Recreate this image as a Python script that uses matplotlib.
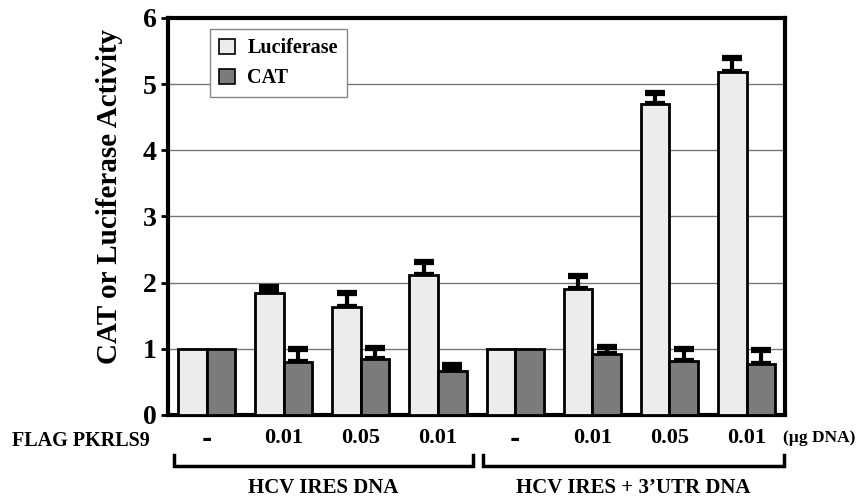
import matplotlib
matplotlib.use("Agg")
import matplotlib.pyplot as plt
import matplotlib.transforms as mtransforms
from matplotlib.patches import Patch
import numpy as np

# ---- data ----
dose_labels = ["-", "0.01", "0.05", "0.01", "-", "0.01", "0.05", "0.01"]
luciferase = [1.0, 1.84, 1.63, 2.11, 1.0, 1.90, 4.70, 5.18]
luciferase_err = [0.0, 0.09, 0.22, 0.20, 0.0, 0.20, 0.17, 0.21]
cat = [1.0, 0.80, 0.85, 0.67, 1.0, 0.92, 0.82, 0.77]
cat_err = [0.0, 0.20, 0.17, 0.09, 0.0, 0.11, 0.17, 0.21]
group_names = ["HCV IRES DNA", "HCV IRES + 3\u2019UTR DNA"]
series_names = ["Luciferase", "CAT"]
ylabel = "CAT or Luciferase Activity"
row_label = "FLAG PKRLS9"
unit_label = "(\u00b5g DNA)"

plt.rcParams['font.family'] = ['Liberation Serif', 'DejaVu Serif']
plt.rcParams['font.weight'] = 'bold'

fig = plt.figure(figsize=(8.63, 4.97), dpi=100)
ax = fig.add_axes([0.1947, 0.165, 0.715, 0.7988])

x = np.arange(len(luciferase))
w = 0.37
luc_color = "#ececec"
cat_color = "#7b7b7b"

ax.bar(x - w / 2, luciferase, w, color=luc_color, edgecolor="black", linewidth=2, zorder=3)
ax.bar(x + w / 2, cat, w, color=cat_color, edgecolor="black", linewidth=2, zorder=3)

def upper_err(xs, vals, errs):
    xs = np.asarray(xs); vals = np.asarray(vals); errs = np.asarray(errs)
    m = errs > 0
    ax.errorbar(xs[m], vals[m], yerr=[np.zeros(m.sum()), errs[m]], fmt='none',
                ecolor='black', elinewidth=3, capsize=7.5, capthick=4.5, zorder=2)

upper_err(x - w / 2, luciferase, luciferase_err)
upper_err(x + w / 2, cat, cat_err)

ax.set_xlim(-0.5, 7.5)
ax.set_ylim(0, 6)
ax.set_yticks(range(0, 7))
ax.set_yticklabels([str(i) for i in range(0, 7)], fontsize=20, fontweight='bold')
ax.set_xticks([])
ax.tick_params(axis='y', direction='out', length=5, width=2, pad=3)
for y in range(1, 6):
    ax.axhline(y, color="#777777", linewidth=1, zorder=1)
for s in ax.spines.values():
    s.set_linewidth(3)
    s.set_color('black')

ax.set_ylabel(ylabel, fontsize=21, fontweight='bold', labelpad=10)
ax.yaxis.set_label_coords(-0.073, 0.55)

# legend
handles = [Patch(facecolor=luc_color, edgecolor='black', linewidth=1.2),
           Patch(facecolor=cat_color, edgecolor='black', linewidth=1.2)]
leg = ax.legend(handles, series_names, loc='upper left', bbox_to_anchor=(0.052, 0.997),
                prop={'family': 'Liberation Serif', 'weight': 'bold', 'size': 14.5},
                handlelength=0.8, handleheight=0.8, handletextpad=0.6,
                labelspacing=0.5, borderpad=0.45, fancybox=False, framealpha=1,
                edgecolor='#888888')
leg.get_frame().set_linewidth(1)
leg.set_zorder(5)

trans = mtransforms.blended_transform_factory(ax.transData, ax.transAxes)
ftrans = mtransforms.blended_transform_factory(fig.transFigure, ax.transAxes)

# dose labels
for xi, lab in zip(x, dose_labels):
    if lab == "-":
        ax.text(xi, -0.06, "-", transform=trans, ha='center', va='center',
                fontsize=18, fontweight='bold', family='DejaVu Sans', clip_on=False)
    else:
        ax.text(xi, -0.058, lab, transform=trans, ha='center', va='center',
                fontsize=16, fontweight='bold', clip_on=False)
ax.text(0.014, -0.066, row_label, transform=ftrans, ha='left', va='center',
        fontsize=14.5, fontweight='bold')
ax.text(7.47, -0.058, unit_label, transform=trans, ha='left', va='center',
        fontsize=12.5, fontweight='bold', clip_on=False)

# brackets
y_top, y_bot = -0.10, -0.128
for (x0, x1), name in zip([(-0.42, 3.45), (3.58, 7.48)], group_names):
    ax.plot([x0, x0, x1, x1], [y_top, y_bot, y_bot, y_top], color='black', lw=2.5,
            transform=trans, clip_on=False, solid_joinstyle='miter')
    ax.text((x0 + x1) / 2, -0.185, name, transform=trans, ha='center', va='center',
            fontsize=15, fontweight='bold', clip_on=False)

fig.savefig("out.png", dpi=100)
